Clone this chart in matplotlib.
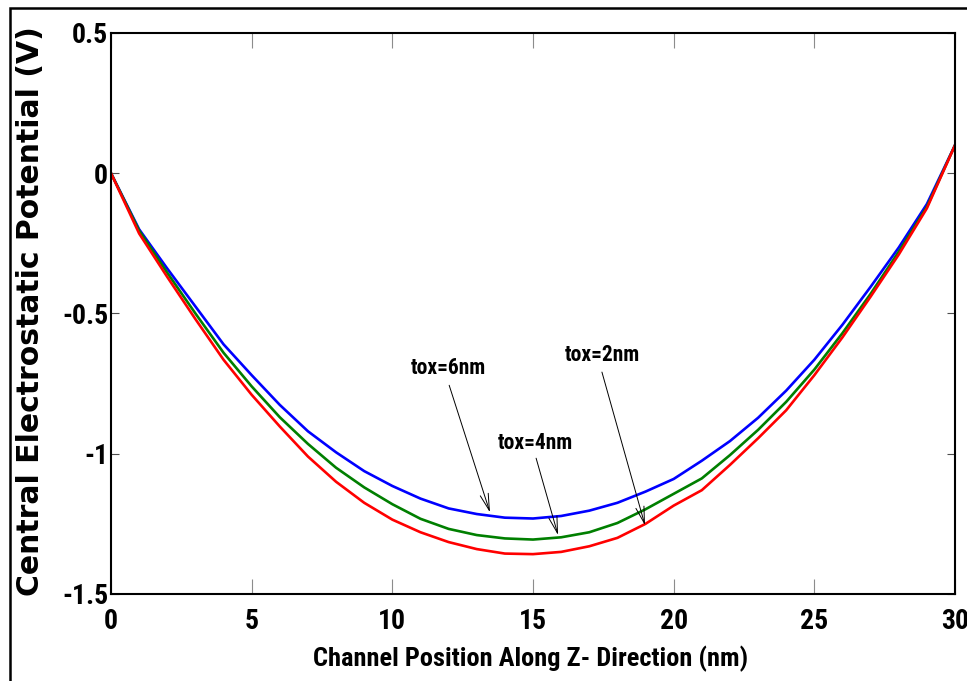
import numpy as np
import matplotlib
matplotlib.use("Agg")
import matplotlib.pyplot as plt
from matplotlib.patches import Rectangle

# ---- data ----
z_nm = list(range(0, 31))
phi_tox6 = [0.0, -0.20, -0.34, -0.475, -0.61, -0.72, -0.826, -0.92, -0.995, -1.062,
            -1.115, -1.16, -1.195, -1.215, -1.228, -1.231, -1.222, -1.203, -1.175, -1.135,
            -1.09, -1.025, -0.955, -0.872, -0.775, -0.665, -0.54, -0.405, -0.265, -0.11, 0.1]
phi_tox4 = [0.0, -0.205, -0.355, -0.50, -0.64, -0.76, -0.87, -0.965, -1.05, -1.12,
            -1.18, -1.232, -1.268, -1.29, -1.302, -1.306, -1.298, -1.28, -1.247, -1.198,
            -1.143, -1.088, -1.005, -0.915, -0.815, -0.70, -0.57, -0.43, -0.28, -0.12, 0.1]
phi_tox2 = [0.0, -0.215, -0.37, -0.52, -0.665, -0.79, -0.903, -1.01, -1.10, -1.175,
            -1.235, -1.28, -1.315, -1.34, -1.356, -1.358, -1.35, -1.33, -1.30, -1.25,
            -1.185, -1.13, -1.04, -0.945, -0.845, -0.72, -0.585, -0.44, -0.29, -0.125, 0.1]

x_ticks = [0, 5, 10, 15, 20, 25, 30]
y_ticks = [-1.5, -1, -0.5, 0, 0.5]
y_ticklabels = ["-1.5", "-1", "-0.5", "0", "0.5"]

# annotation labels: text position, arrow tail, arrow head
labels = ["tox=6nm", "tox=4nm", "tox=2nm"]
label_xy = [(11.98, -0.695), (15.07, -0.963), (17.45, -0.649)]
arrow_tail = [(12.02, -0.756), (15.11, -1.016), (17.45, -0.709)]
arrow_head = [(13.47, -1.209), (15.89, -1.29), (18.98, -1.255)]

narrow = ["Liberation Sans Narrow", "Roboto Condensed", "Liberation Sans"]

fig = plt.figure(figsize=(9.67, 6.81), dpi=100)
ax = fig.add_axes([0.1148, 0.1278, 0.8728, 0.8238])

ax.plot(z_nm, phi_tox6, color="#0000ff", lw=1.9)
ax.plot(z_nm, phi_tox4, color="#007f00", lw=1.9)
ax.plot(z_nm, phi_tox2, color="#ff0000", lw=1.9)

ax.set_xlim(0, 30)
ax.set_ylim(-1.5, 0.5)
ax.set_xticks(x_ticks)
ax.set_yticks(y_ticks)
ax.set_yticklabels(y_ticklabels)

for lab in ax.get_xticklabels() + ax.get_yticklabels():
    lab.set_family(narrow)
    lab.set_fontweight("bold")
    lab.set_fontsize(20)

ax.tick_params(axis="x", direction="in", length=11, width=0.8, color="0.55",
               top=True, pad=10)
ax.tick_params(axis="y", direction="in", length=6, width=0.8, color="0.3",
               right=True, pad=2)
for sp in ax.spines.values():
    sp.set_linewidth(1.5)
    sp.set_color("black")

ax.set_xlabel("Channel Position Along Z- Direction (nm)", family=narrow,
              fontweight="bold", fontsize=19)
ax.xaxis.set_label_coords(0.497, -0.093)
ax.set_ylabel("Central Electrostatic Potential (V)", family="DejaVu Sans",
              fontweight="bold", fontsize=21.5)
ax.yaxis.set_label_coords(-0.078, 0.505)

for s, txy, tail, head in zip(labels, label_xy, arrow_tail, arrow_head):
    ax.text(txy[0], txy[1], s, family=narrow, fontweight="bold", fontsize=15.5,
            ha="center", va="center")
    ax.annotate("", xy=head, xytext=tail,
                arrowprops=dict(arrowstyle="->,head_length=1.2,head_width=0.3",
                                color="black", lw=0.7, shrinkA=0, shrinkB=0))

# outer frame around the figure (cut off at right/bottom)
fig.patches.append(Rectangle((10 / 967, -0.1), 1.2, 673 / 681 + 0.1,
                             transform=fig.transFigure, fill=False,
                             edgecolor="black", lw=1.8, clip_on=False))

fig.savefig("out.png", dpi=100)
